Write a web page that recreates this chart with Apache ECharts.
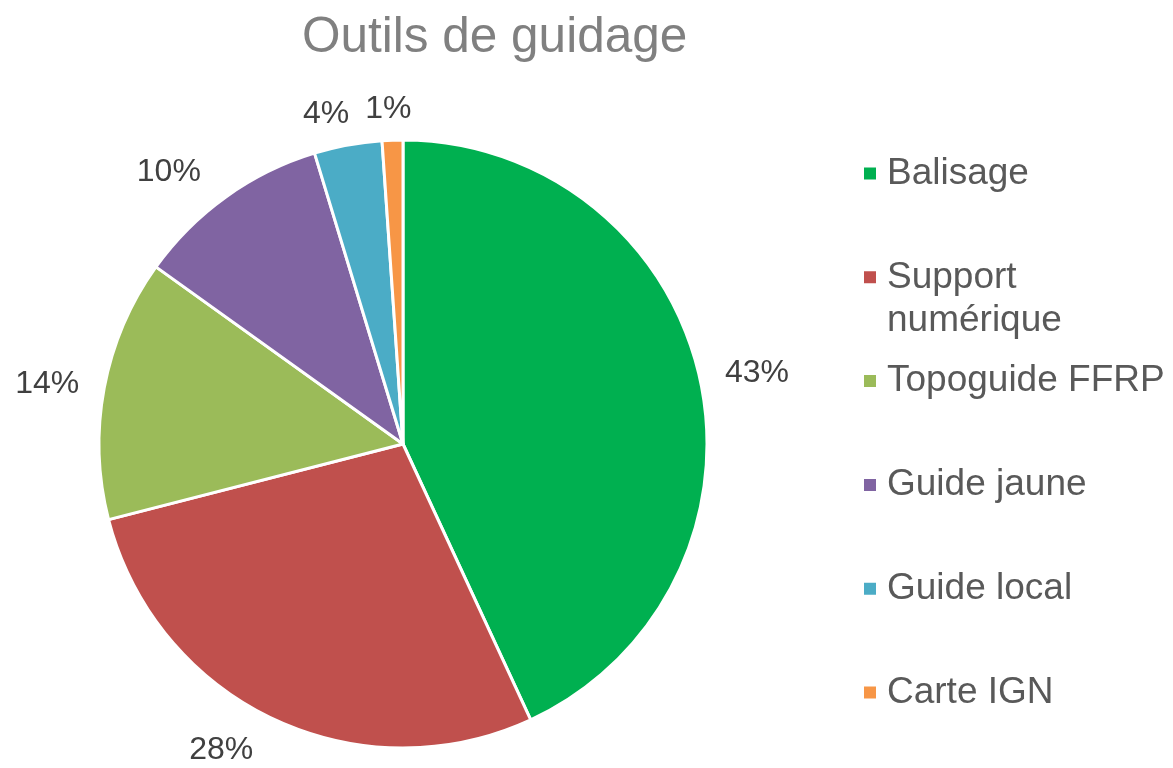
<!DOCTYPE html>
<html>
<head>
<meta charset="utf-8">
<style>
  html, body { margin: 0; padding: 0; background: #fff; }
  #chart { width: 1173px; height: 768px; }
</style>
<script src="https://cdn.jsdelivr.net/npm/echarts@6/dist/echarts.min.js"></script>
</head>
<body>
<div id="chart"></div>
<script>
// données
const categories = ["Balisage", "Support numérique", "Topoguide FFRP", "Guide jaune", "Guide local", "Carte IGN"];
const values = [43.1, 27.9, 13.9, 10.4, 3.6, 1.1];
const colors = ["#00B050", "#C0504D", "#9BBB59", "#8064A2", "#4BACC6", "#F79646"];

const CX = 403, CY = 444, R = 304;
const total = values.reduce((a, b) => a + b, 0);
const LH = 43;

let myChart = echarts.init(document.getElementById('chart'));

// une légende par entrée, pour garder un pas régulier malgré le retour à la ligne
let legends = categories.map(function (name, i) {
    let text = name === "Support numérique" ? "Support\nnumérique" : name;
    let lines = text.split("\n").length;
    let h = 14 + (lines - 1) * LH;
    // carré en haut d'une icône plus haute : il reste aligné sur la 1re ligne
    let icon = lines > 1 ? 'path://M0,0L14,0L14,14L0,14Z M0,' + h : 'rect';
    return {
        orient: 'vertical',
        left: 862,
        top: 152 + i * 103.8,
        padding: 0,
        icon: icon,
        itemWidth: 14,
        itemHeight: h,
        selectedMode: false,
        data: [name],
        formatter: function () { return text; },
        textStyle: {
            fontFamily: 'Liberation Sans, Arial, sans-serif',
            fontSize: 37,
            lineHeight: LH,
            padding: [0, 0, 0, 5],
            color: '#595959'
        }
    };
});

let option = {
    animation: false,
    color: colors,
    title: {
        text: 'Outils de guidage',
        left: 297,
        top: 8,
        textStyle: {
            fontFamily: 'Liberation Sans, Arial, sans-serif',
            fontSize: 49.5,
            fontWeight: 'normal',
            color: '#808080'
        }
    },
    legend: legends,
    series: [{
        type: 'pie',
        center: [CX, CY],
        radius: R,
        startAngle: 90,
        clockwise: true,
        data: categories.map(function (c, i) { return { name: c, value: values[i] }; }),
        itemStyle: { borderColor: '#fff', borderWidth: 3 },
        label: {
            show: true,
            position: 'outside',
            bleedMargin: 0,
            formatter: function (p) { return Math.round(p.value / total * 100) + '%'; },
            fontFamily: 'Liberation Sans, Arial, sans-serif',
            fontSize: 32,
            color: '#404040'
        },
        labelLine: { show: false, length: 0, length2: 0 },
        // étiquettes juste à l'extérieur de chaque part, à la manière d'Excel
        labelLayout: function (p) {
            let i = p.dataIndex;
            let before = 0;
            for (let j = 0; j < i; j++) before += values[j];
            let mid = (before + values[i] / 2) / total * 2 * Math.PI;
            let ux = Math.sin(mid), uy = -Math.cos(mid);
            let w = p.labelRect.width, h = p.labelRect.height;
            let maxDx = w / 2 + 25;
            let dx = Math.max(-maxDx, Math.min(maxDx, ux * 120));
            let dy = uy * (h / 2 + 17);
            return {
                x: CX + ux * R + dx,
                y: CY + uy * R + dy + 2,
                align: 'center',
                verticalAlign: 'middle'
            };
        }
    }]
};

myChart.setOption(option);
</script>
</body>
</html>
